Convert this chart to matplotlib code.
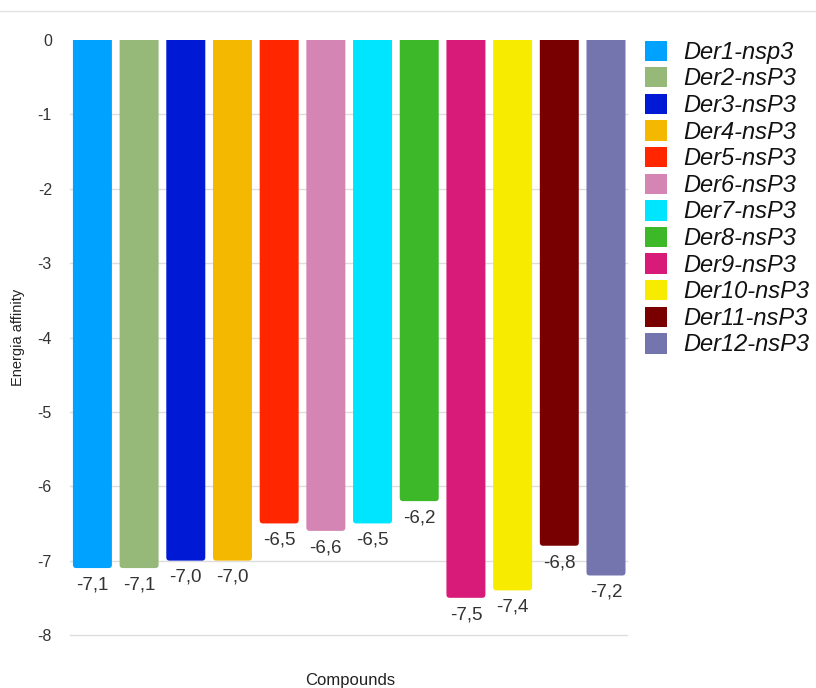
import matplotlib.pyplot as plt
from matplotlib.lines import Line2D
from matplotlib.patches import Patch, FancyBboxPatch

plt.rcParams['font.family'] = ['Liberation Sans', 'DejaVu Sans']

compounds = ['Der1-nsp3', 'Der2-nsP3', 'Der3-nsP3', 'Der4-nsP3', 'Der5-nsP3', 'Der6-nsP3',
             'Der7-nsP3', 'Der8-nsP3', 'Der9-nsP3', 'Der10-nsP3', 'Der11-nsP3', 'Der12-nsP3']
affinity = [-7.1, -7.1, -7.0, -7.0, -6.5, -6.6, -6.5, -6.2, -7.5, -7.4, -6.8, -7.2]
colors = ['#00A2FF', '#96B97A', '#0019D4', '#F5B800', '#FF2600', '#D485B3',
          '#00E5FF', '#3DB828', '#D81B78', '#F7EB00', '#780000', '#7474AE']
yticks = [0, -1, -2, -3, -4, -5, -6, -7, -8]

fig = plt.figure(figsize=(8.16, 6.88), dpi=100)
ax = fig.add_axes([70 / 816, 1 - 635 / 688, 557 / 816, 595 / 688])

xs = list(range(len(compounds)))
bars = ax.bar(xs, affinity, width=0.835, color=colors, zorder=2)

# swap plain rectangles for ones with rounded ends (top part runs past 0 and is clipped)
for b in bars:
    x0, w, v = b.get_x(), b.get_width(), b.get_height()
    rb = FancyBboxPatch((x0, v), w, -v + 0.3, boxstyle='round,pad=0,rounding_size=0.07',
                        mutation_aspect=0.63, facecolor=b.get_facecolor(),
                        edgecolor='none', zorder=2)
    ax.add_patch(rb)
    b.set_visible(False)

for x, v in zip(xs, affinity):
    ax.annotate(('%.1f' % v).replace('.', ','), (x, v), xytext=(0, -6),
                textcoords='offset points', ha='center', va='top',
                fontsize=13.5, color='#333333')

ax.set_ylim(-8, 0)
ax.set_xlim(-0.48, 11.45)
ax.set_yticks(yticks)
ax.set_yticklabels([str(t) for t in yticks], fontsize=11.5, color='#333333')
ax.set_xticks([])
ax.tick_params(axis='y', length=0, pad=13)
for t in yticks[1:]:
    ax.axhline(t, color='#dddddd', lw=1, zorder=1, clip_on=False)
for s in ax.spines.values():
    s.set_visible(False)

ax.set_ylabel('Energia affinity', fontsize=10.5, color='#222222', labelpad=9)
fig.text(350 / 816, 1 - 681 / 688, 'Compounds', ha='center', va='center',
         fontsize=12, color='#222222')

handles = [Patch(facecolor=c, edgecolor='none') for c in colors]
leg = fig.legend(handles, compounds, loc='upper left', bbox_to_anchor=(628 / 816, 1 - 24 / 688),
                 frameon=False, prop={'style': 'italic', 'size': 17},
                 handlelength=0.95, handleheight=0.95, handletextpad=0.7, labelspacing=0.14,
                 borderpad=0.2)
for txt in leg.get_texts():
    txt.set_color('#111111')

# thin rule along the top edge
fig.add_artist(Line2D([0, 1], [1 - 11 / 688, 1 - 11 / 688], color='#e3e3e3', lw=1))

fig.savefig('out.png', dpi=100)
